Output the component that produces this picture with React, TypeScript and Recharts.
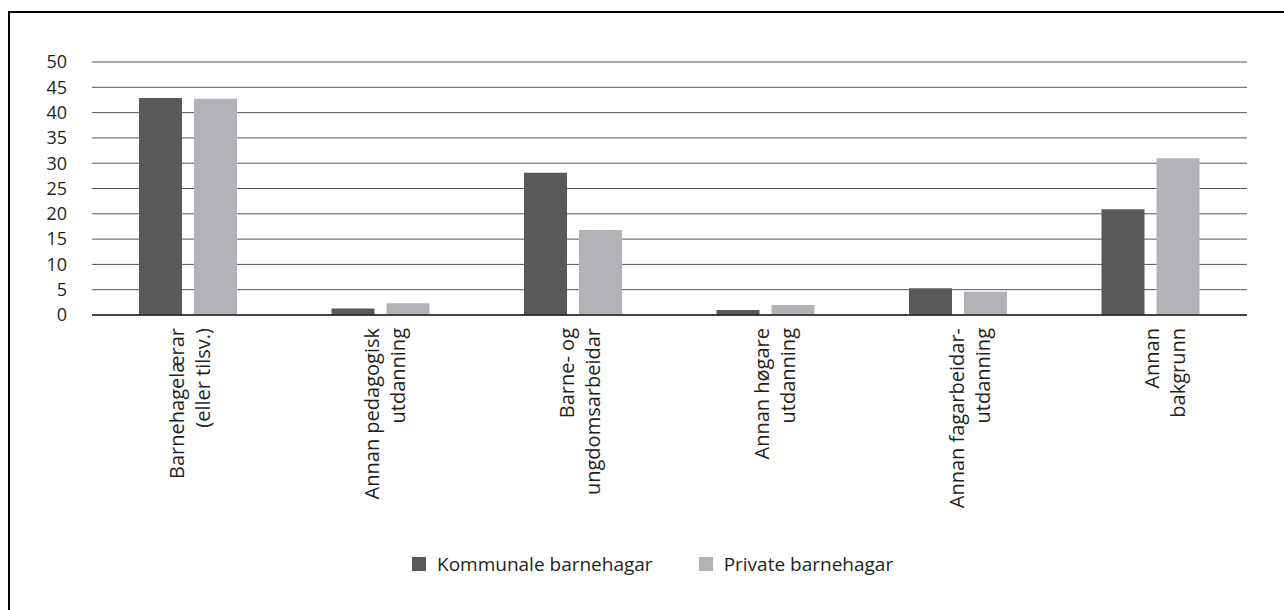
import React from 'react';
import { BarChart, Bar, XAxis, YAxis, CartesianGrid, Legend } from 'recharts';

const categories = [
  'Barnehagelærar\n(eller tilsv.)',
  'Annan pedagogisk\nutdanning',
  'Barne- og\nungdomsarbeidar',
  'Annan høgare\nutdanning',
  'Annan fagarbeidar-\nutdanning',
  'Annan\nbakgrunn',
];
const kommunale = [42.9, 1.3, 28.1, 1.0, 5.3, 20.9];
const privat = [42.75, 2.3, 16.8, 2.0, 4.6, 31.0];
const yTicks = [0, 5, 10, 15, 20, 25, 30, 35, 40, 45, 50];
const seriesNames = ['Kommunale barnehagar', 'Private barnehagar'];

const data = categories.map((c, i) => ({ name: c, k: kommunale[i], p: privat[i] }));

const FONT = '"Open Sans", sans-serif';
const TEXT = '#231f20';

const XTick = (props: any) => {
  const { x, y, payload, index } = props;
  const lines = String(payload.value).split('\n');
  const idx = typeof index === 'number' ? index : payload.index || 0;
  const shift = idx * 2.4;
  return (
    <g transform={`translate(${x + shift},${y})`}>
      <text transform="rotate(-90)" textAnchor="end" fontSize={20} fill={TEXT} fontFamily={FONT}>
        {lines.map((l, i) => (
          <tspan key={i} x={-13} y={-4 + i * 26}>{l}</tspan>
        ))}
      </text>
    </g>
  );
};

const renderLegend = (props: any) => {
  const { payload } = props;
  return (
    <div style={{ display: 'flex', alignItems: 'center', paddingLeft: 412, fontFamily: FONT }}>
      {(payload || []).map((e: any, i: number) => (
        <div key={i} style={{ display: 'flex', alignItems: 'center', marginRight: 46 }}>
          <span style={{ width: 14, height: 14, background: e.color, marginRight: 11, display: 'inline-block' }} />
          <span style={{ fontSize: 19, color: TEXT, lineHeight: '24px' }}>{e.value}</span>
        </div>
      ))}
    </div>
  );
};

export default function App() {
  return (
    <div>
      <div
        style={{
          position: 'absolute',
          left: 8,
          top: 11,
          width: 1276,
          height: 599,
          boxSizing: 'border-box',
          borderTop: '2px solid #000',
          borderLeft: '2px solid #000',
        }}
      />
      <div style={{ position: 'absolute', left: 0, top: 0 }}>
        <BarChart
          width={1284}
          height={610}
          data={data}
          margin={{ top: 62, right: 37, bottom: 95, left: 32 }}
          barSize={43}
          barGap={12}
        >
          <CartesianGrid vertical={false} stroke="#555555" strokeWidth={1} />
          <XAxis
            dataKey="name"
            interval={0}
            height={200}
            tickSize={0}
            tickMargin={0}
            tickLine={false}
            axisLine={{ stroke: TEXT, strokeWidth: 1.6 }}
            tick={<XTick />}
          />
          <YAxis
            width={60}
            domain={[0, 50]}
            ticks={yTicks}
            interval={0}
            axisLine={false}
            tickLine={false}
            tickSize={0}
            tickMargin={25}
            tick={{ fontSize: 18, fill: TEXT, fontFamily: FONT }}
          />
          <Legend
            layout="horizontal"
            verticalAlign="middle"
            align="center"
            wrapperStyle={{ top: 552, left: 0, width: 1284 }}
            content={renderLegend}
          />
          <Bar dataKey="k" name={seriesNames[0]} fill="#58595b" isAnimationActive={false} />
          <Bar dataKey="p" name={seriesNames[1]} fill="#b1b3b6" isAnimationActive={false} />
        </BarChart>
      </div>
    </div>
  );
}
